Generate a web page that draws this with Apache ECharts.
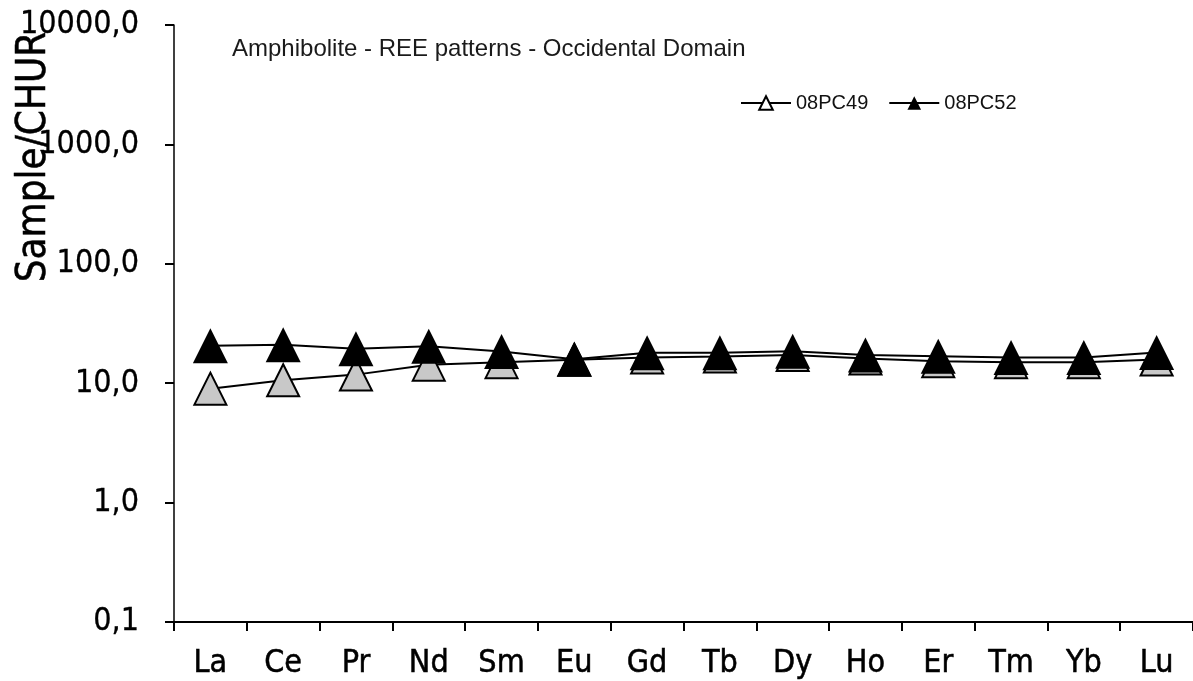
<!DOCTYPE html>
<html>
<head>
<meta charset="utf-8">
<script src="https://cdn.jsdelivr.net/npm/echarts@6/dist/echarts.min.js"></script>
<style>
html,body{margin:0;padding:0;background:#fff;}
#chart{width:1193px;height:681px;}
</style>
</head>
<body>
<div id="chart"></div>
<script>
var categories = ['La','Ce','Pr','Nd','Sm','Eu','Gd','Tb','Dy','Ho','Er','Tm','Yb','Lu'];
var pc49 = [9.0, 10.6, 11.8, 14.3, 15.0, 15.7, 16.4, 16.7, 17.2, 16.1, 15.3, 15.0, 15.0, 15.8];
var pc52 = [20.6, 21.0, 19.4, 20.4, 18.4, 15.9, 18.0, 18.0, 18.5, 17.2, 16.8, 16.4, 16.4, 18.1];
var seriesNames = ['08PC49', '08PC52'];
var titleText = 'Amphibolite - REE patterns - Occidental Domain';
var yAxisTitle = 'Sample/CHUR';

var tickFont = '"DejaVu Sans Condensed", "DejaVu Sans", sans-serif';
var chart = echarts.init(document.getElementById('chart'), null, {renderer: 'canvas'});
chart.setOption({
  animation: false,
  backgroundColor: '#fff',
  title: {
    text: titleText,
    left: 232, top: 37, padding: 0,
    textStyle: {fontFamily: '"Liberation Sans", Arial, sans-serif', fontSize: 24, fontWeight: 'normal', color: '#1a1a1a'}
  },
  legend: {
    left: 735, top: 88,
    itemWidth: 50, itemHeight: 17, itemGap: 20,
    textStyle: {fontFamily: '"Liberation Sans", Arial, sans-serif', fontSize: 20, color: '#111'},
    data: [
      {name: seriesNames[0], itemStyle: {color: '#fff', borderColor: '#000', borderWidth: 2}},
      {name: seriesNames[1], itemStyle: {color: '#000'}}
    ]
  },
  graphic: [{
    type: 'text',
    x: 35, y: 157, rotation: Math.PI / 2,
    style: {text: yAxisTitle, fontFamily: tickFont, fontSize: 40, fill: '#000', align: 'center', verticalAlign: 'middle',
            stroke: '#000', lineWidth: 0.5},
    z: 10
  }],
  grid: {left: 174, top: 25, width: 1023, height: 597},
  xAxis: {
    type: 'category',
    data: categories,
    boundaryGap: true,
    axisLine: {lineStyle: {color: '#000', width: 2}},
    axisTick: {show: true, length: 9, lineStyle: {color: '#000', width: 2}},
    axisLabel: {interval: 0, margin: 26, fontFamily: tickFont, fontSize: 32, color: '#000',
                textBorderColor: '#000', textBorderWidth: 0.5},
    splitLine: {show: false}
  },
  yAxis: {
    type: 'log',
    logBase: 10,
    min: 0.1, max: 10000,
    axisLine: {show: true, lineStyle: {color: '#000', width: 1.5}},
    axisTick: {show: true, length: 9, lineStyle: {color: '#000', width: 2}},
    axisLabel: {
      margin: 35, fontFamily: tickFont, fontSize: 32, color: '#000',
      textBorderColor: '#000', textBorderWidth: 0.3,
      formatter: function (v) { return Number(v).toFixed(1).replace('.', ','); }
    },
    splitLine: {show: false},
    minorTick: {show: false}
  },
  series: [
    {
      name: seriesNames[0], type: 'line', data: pc49,
      symbol: 'triangle', symbolSize: 32,
      lineStyle: {color: '#000', width: 2},
      itemStyle: {color: '#c8c8c8', borderColor: '#000', borderWidth: 2}
    },
    {
      name: seriesNames[1], type: 'line', data: pc52,
      symbol: 'triangle', symbolSize: 35,
      lineStyle: {color: '#000', width: 2},
      itemStyle: {color: '#000', borderColor: '#000', borderWidth: 0}
    }
  ]
});
</script>
</body>
</html>
